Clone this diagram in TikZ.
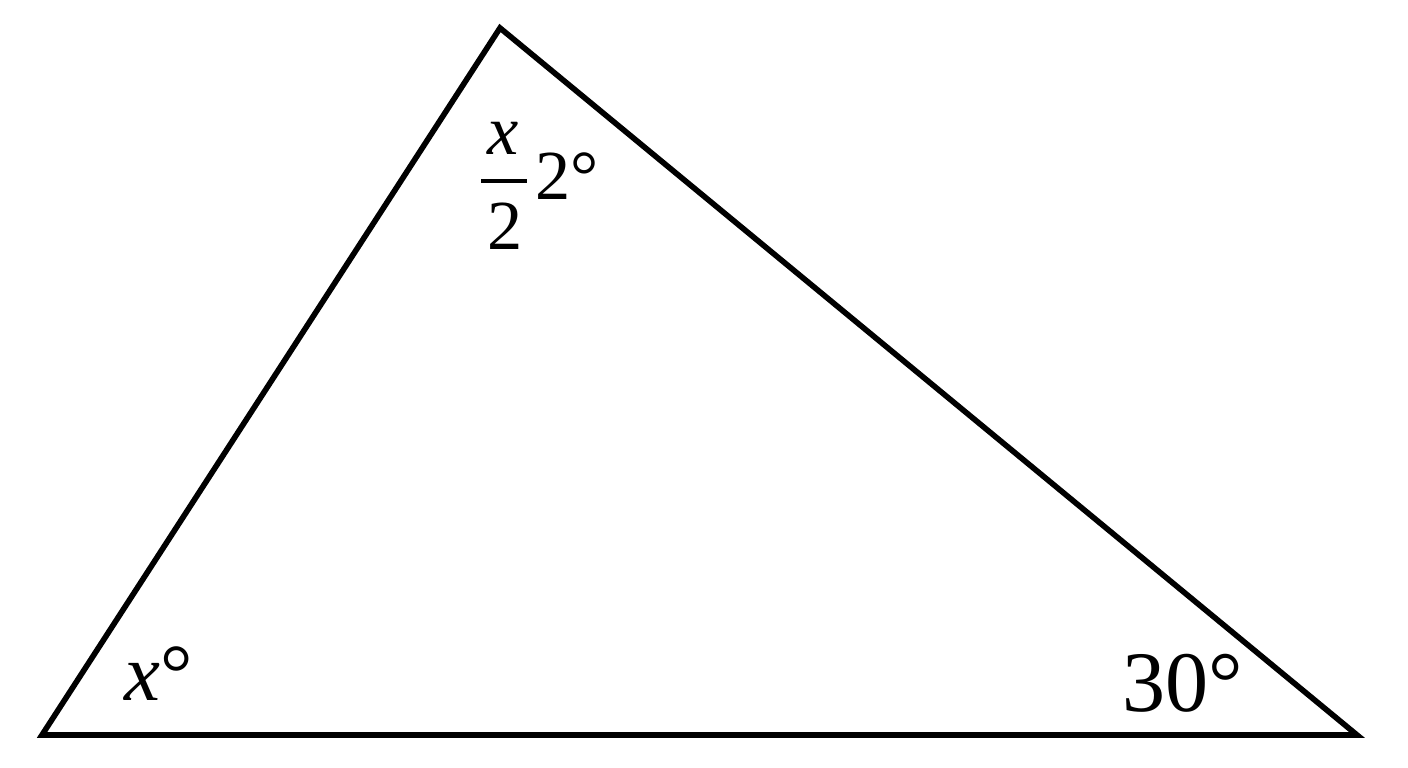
\documentclass[tikz,border=0pt]{standalone}
\usepackage{fontspec}
\setmainfont{Liberation Serif}

\begin{document}
\begin{tikzpicture}[x=0.01cm,y=-0.01cm]
      \tikzstyle{every node}+=[inner sep=0pt]
      \tikzstyle{angle label}=[font=\rmfamily\fontsize{23}{27}\selectfont, anchor=base west]
      \tikzstyle{top label}=[font=\rmfamily\fontsize{20}{24}\selectfont, anchor=base]
      \useasboundingbox (0,0) rectangle (1408,768);
      \coordinate (A) at (42,735);
      \coordinate (B) at (500,28);
      \coordinate (C) at (1357,735);
      \draw [black, line width=1.6pt, line join=miter] (A) -- (B) -- (C) -- cycle;
      \node [angle label] (angA) at (124,701) {\textit{x}°};
      \node [top label] (fracnum) at (503,155) {\textit{x}};
      \node [top label] (fracden) at (505,250) {2};
      \draw [black, line width=1.4pt] (481,181) -- (527,181);
      \node [top label, anchor=base west] (angB) at (535,200) {2°};
      \node [angle label, font=\rmfamily\fontsize{24.5}{29}\selectfont] (angC) at (1122,712) {30°};
    \end{tikzpicture}
\end{document}
